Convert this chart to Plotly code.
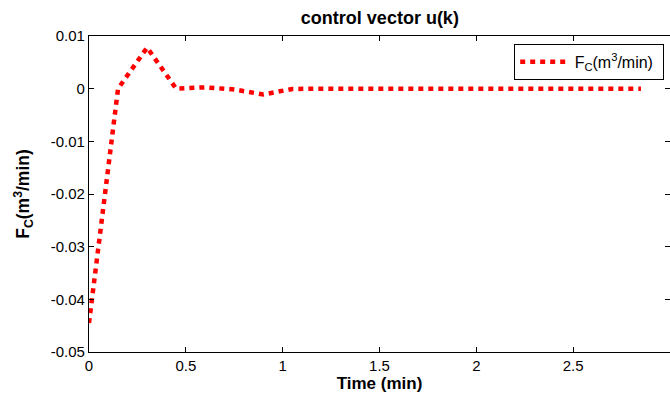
import plotly.graph_objects as go

# Data
time_min = [0.0, 0.15, 0.30, 0.45, 0.60, 0.75, 0.90, 1.05, 1.20, 1.35, 1.50, 1.65,
            1.80, 1.95, 2.10, 2.25, 2.40, 2.55, 2.70, 2.85]
fc_values = [-0.0445, 0.0, 0.0078, 0.0, 0.00025, -0.00015, -0.0011, -0.00005, 0.0, 0.0,
             0.00015, 0.0, 0.0, 0.0, 0.0, 0.0, 0.0, 0.0, 0.0, 0.0]

x_tickvals = [0, 0.5, 1, 1.5, 2, 2.5, 3]
x_ticktext = ["0", "0.5", "1", "1.5", "2", "2.5", "3"]
y_tickvals = [0.01, 0, -0.01, -0.02, -0.03, -0.04, -0.05]
y_ticktext = ["0.01", "0", "-0.01", "-0.02", "-0.03", "-0.04", "-0.05"]

FONT = "Liberation Sans, Arial, sans-serif"

fig = go.Figure()
fig.add_trace(go.Scatter(
    x=time_min, y=fc_values, mode="lines",
    name="&nbsp;F<sub>C</sub>(m<sup>3</sup>/min)&nbsp;",
    line=dict(color="#ff0000", width=4.5, dash="5px,5px"),
))

axis_common = dict(
    showline=True, linecolor="black", linewidth=1.3, mirror="ticks",
    ticks="inside", ticklen=5, tickwidth=1, tickcolor="black",
    showgrid=False, zeroline=False,
    tickfont=dict(family=FONT, size=15, color="black"),
)

fig.update_layout(
    width=670, height=398,
    margin=dict(l=89, r=0, t=36, b=46),
    paper_bgcolor="white", plot_bgcolor="white",
    title=dict(text="<b>control vector u(k)</b>", x=0.567, xanchor="center",
               y=0.955, yanchor="middle",
               font=dict(family=FONT, size=18, color="black")),
    xaxis=dict(range=[0, 3], tickvals=x_tickvals, ticktext=x_ticktext,
               title=dict(text="<b>Time (min)</b>", standoff=2,
                          font=dict(family=FONT, size=17, color="black")),
               **axis_common),
    yaxis=dict(range=[-0.05, 0.01], tickvals=y_tickvals, ticktext=y_ticktext,
               title=dict(text="<b>F<sub>C</sub>(m<sup>3</sup>/min)</b>", standoff=16,
                          font=dict(family=FONT, size=17.5, color="black")),
               **axis_common),
    showlegend=True,
    legend=dict(x=0.99, xanchor="right", y=0.975, yanchor="top",
                bgcolor="white", bordercolor="black", borderwidth=1,
                itemwidth=45,
                font=dict(family=FONT, size=16, color="black")),
)

fig.write_html("out.html")
